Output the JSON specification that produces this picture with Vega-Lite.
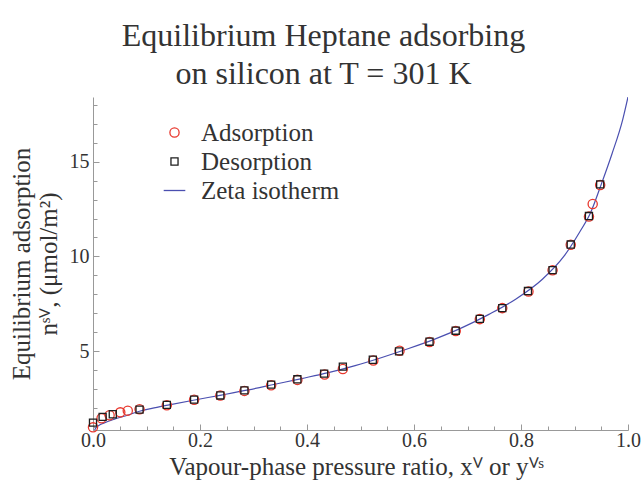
{
  "$schema": "https://vega.github.io/schema/vega-lite/v6.json",
  "width": 535,
  "height": 333,
  "autosize": {"type": "none"},
  "padding": {"left": 93, "top": 97, "right": 13, "bottom": 55},
  "background": "white",
  "title": {
    "text": ["Equilibrium Heptane adsorbing", "on silicon at T = 301 K"],
    "font": "Liberation Serif",
    "fontSize": 32,
    "fontWeight": "normal",
    "color": "#333333",
    "lineHeight": 38,
    "anchor": "middle",
    "dx": -37,
    "offset": 6
  },
  "config": {
    "view": {"stroke": null},
    "axis": {
      "grid": false,
      "domainColor": "#999999",
      "tickColor": "#999999",
      "domainWidth": 1,
      "tickWidth": 1,
      "labelFont": "Liberation Serif",
      "labelFontSize": 20,
      "labelColor": "#333333",
      "titleFont": "Liberation Serif",
      "titleFontSize": 25,
      "titleFontWeight": "normal",
      "titleColor": "#333333",
      "labelFlush": false,
      "labelOverlap": false
    },
    "legend": {
      "labelFont": "Liberation Serif",
      "labelFontSize": 25,
      "labelColor": "#333333",
      "symbolStrokeWidth": 1.3,
      "labelOffset": 14,
      "rowPadding": 3,
      "padding": 0
    }
  },
  "datasets": {
    "zeta": [
      {"x": 0, "y": 0},
      {"x": 0.002, "y": 0.75},
      {"x": 0.005, "y": 0.95},
      {"x": 0.01, "y": 1.08},
      {"x": 0.02, "y": 1.22},
      {"x": 0.04, "y": 1.43},
      {"x": 0.06, "y": 1.6},
      {"x": 0.087, "y": 1.85},
      {"x": 0.11, "y": 2.0},
      {"x": 0.14, "y": 2.17},
      {"x": 0.19, "y": 2.44},
      {"x": 0.24, "y": 2.7},
      {"x": 0.29, "y": 2.97},
      {"x": 0.34, "y": 3.27},
      {"x": 0.39, "y": 3.57},
      {"x": 0.44, "y": 3.88},
      {"x": 0.49, "y": 4.25},
      {"x": 0.54, "y": 4.68},
      {"x": 0.59, "y": 5.15},
      {"x": 0.64, "y": 5.66},
      {"x": 0.69, "y": 6.25},
      {"x": 0.74, "y": 6.95},
      {"x": 0.79, "y": 7.75},
      {"x": 0.84, "y": 8.8},
      {"x": 0.88, "y": 10.0},
      {"x": 0.91, "y": 11.3},
      {"x": 0.93, "y": 12.3},
      {"x": 0.95, "y": 13.8},
      {"x": 0.97, "y": 15.4},
      {"x": 0.99, "y": 17.2},
      {"x": 1.0, "y": 18.4}
    ],
    "points": [
      {"x": 0.0, "y": 1.0, "series": "Adsorption"},
      {"x": 0.016, "y": 1.48, "series": "Adsorption"},
      {"x": 0.031, "y": 1.64, "series": "Adsorption"},
      {"x": 0.051, "y": 1.79, "series": "Adsorption"},
      {"x": 0.065, "y": 1.88, "series": "Adsorption"},
      {"x": 0.087, "y": 1.95, "series": "Adsorption"},
      {"x": 0.138, "y": 2.16, "series": "Adsorption"},
      {"x": 0.189, "y": 2.45, "series": "Adsorption"},
      {"x": 0.238, "y": 2.68, "series": "Adsorption"},
      {"x": 0.283, "y": 2.92, "series": "Adsorption"},
      {"x": 0.333, "y": 3.22, "series": "Adsorption"},
      {"x": 0.382, "y": 3.5, "series": "Adsorption"},
      {"x": 0.433, "y": 3.78, "series": "Adsorption"},
      {"x": 0.467, "y": 4.07, "series": "Adsorption"},
      {"x": 0.524, "y": 4.52, "series": "Adsorption"},
      {"x": 0.573, "y": 5.03, "series": "Adsorption"},
      {"x": 0.629, "y": 5.5, "series": "Adsorption"},
      {"x": 0.678, "y": 6.07, "series": "Adsorption"},
      {"x": 0.723, "y": 6.7, "series": "Adsorption"},
      {"x": 0.765, "y": 7.28, "series": "Adsorption"},
      {"x": 0.814, "y": 8.16, "series": "Adsorption"},
      {"x": 0.859, "y": 9.27, "series": "Adsorption"},
      {"x": 0.893, "y": 10.62, "series": "Adsorption"},
      {"x": 0.927, "y": 12.1, "series": "Adsorption"},
      {"x": 0.934, "y": 12.76, "series": "Adsorption"},
      {"x": 0.948, "y": 13.76, "series": "Adsorption"},
      {"x": 0.0, "y": 1.25, "series": "Desorption"},
      {"x": 0.018, "y": 1.55, "series": "Desorption"},
      {"x": 0.037, "y": 1.69, "series": "Desorption"},
      {"x": 0.087, "y": 1.93, "series": "Desorption"},
      {"x": 0.138, "y": 2.18, "series": "Desorption"},
      {"x": 0.189, "y": 2.46, "series": "Desorption"},
      {"x": 0.238, "y": 2.68, "series": "Desorption"},
      {"x": 0.283, "y": 2.95, "series": "Desorption"},
      {"x": 0.333, "y": 3.25, "series": "Desorption"},
      {"x": 0.382, "y": 3.53, "series": "Desorption"},
      {"x": 0.432, "y": 3.83, "series": "Desorption"},
      {"x": 0.467, "y": 4.2, "series": "Desorption"},
      {"x": 0.523, "y": 4.56, "series": "Desorption"},
      {"x": 0.572, "y": 5.0, "series": "Desorption"},
      {"x": 0.629, "y": 5.51, "series": "Desorption"},
      {"x": 0.678, "y": 6.09, "series": "Desorption"},
      {"x": 0.723, "y": 6.71, "series": "Desorption"},
      {"x": 0.765, "y": 7.28, "series": "Desorption"},
      {"x": 0.813, "y": 8.18, "series": "Desorption"},
      {"x": 0.859, "y": 9.28, "series": "Desorption"},
      {"x": 0.893, "y": 10.63, "series": "Desorption"},
      {"x": 0.927, "y": 12.13, "series": "Desorption"},
      {"x": 0.948, "y": 13.8, "series": "Desorption"}
    ]
  },
  "layer": [
    {
      "data": {"name": "zeta"},
      "mark": {"type": "line", "interpolate": "monotone", "clip": true, "strokeWidth": 1.2, "color": "#4a4fb0"},
      "encoding": {
        "x": {
          "field": "x", "type": "quantitative",
          "scale": {"domain": [0, 1], "nice": false, "zero": false},
          "axis": {"orient": "bottom", "values": [0.05, 0.1, 0.15, 0.25, 0.3, 0.35, 0.45, 0.5, 0.55, 0.65, 0.7, 0.75, 0.85, 0.9, 0.95], "labels": false, "domain": false, "tickSize": -4, "title": null}
        },
        "y": {
          "field": "y", "type": "quantitative",
          "scale": {"domain": [0.86, 18.4], "nice": false, "zero": false},
          "axis": {"orient": "left", "values": [1, 2, 3, 4, 6, 7, 8, 9, 11, 12, 13, 14, 16, 17, 18], "labels": false, "domain": false, "tickSize": -4, "title": null}
        }
      }
    },
    {
      "data": {"name": "points"},
      "mark": {"type": "point", "filled": false, "strokeWidth": 1.3, "opacity": 1},
      "encoding": {
        "x": {
          "field": "x", "type": "quantitative",
          "scale": {"domain": [0, 1], "nice": false, "zero": false},
          "axis": {"orient": "bottom", "values": [0, 0.2, 0.4, 0.6, 0.8, 1.0], "format": ".1f", "tickSize": -6, "labelPadding": 6, "title": "Vapour-phase pressure ratio, xⱽ or yⱽˢ", "titlePadding": 4, "titleX": 263}
        },
        "y": {
          "field": "y", "type": "quantitative",
          "scale": {"domain": [0.86, 18.4], "nice": false, "zero": false},
          "axis": {"orient": "left", "values": [5, 10, 15], "tickSize": -6, "labelPadding": 10, "title": ["Equilibrium adsorption", "nˢⱽ, (μmol/m²)"], "titlePadding": 8}
        },
        "color": {
          "field": "series", "type": "nominal", "title": null,
          "scale": {"type": "ordinal", "domain": ["Adsorption", "Desorption", "Zeta isotherm"], "range": ["#e8382e", "#1e1e1e", "#4a4fb0"]},
          "legend": {"orient": "none", "legendX": 69, "legendY": 23, "title": null}
        },
        "shape": {
          "field": "series", "type": "nominal", "title": null,
          "scale": {"type": "ordinal", "domain": ["Adsorption", "Desorption", "Zeta isotherm"], "range": ["circle", "square", "stroke"]},
          "legend": {"orient": "none", "legendX": 69, "legendY": 23, "title": null}
        },
        "size": {
          "field": "series", "type": "nominal", "title": null,
          "scale": {"type": "ordinal", "domain": ["Adsorption", "Desorption", "Zeta isotherm"], "range": [85, 50, 467]},
          "legend": {"orient": "none", "legendX": 69, "legendY": 23, "title": null}
        }
      }
    }
  ],
  "resolve": {"axis": {"x": "independent", "y": "independent"}}
}
